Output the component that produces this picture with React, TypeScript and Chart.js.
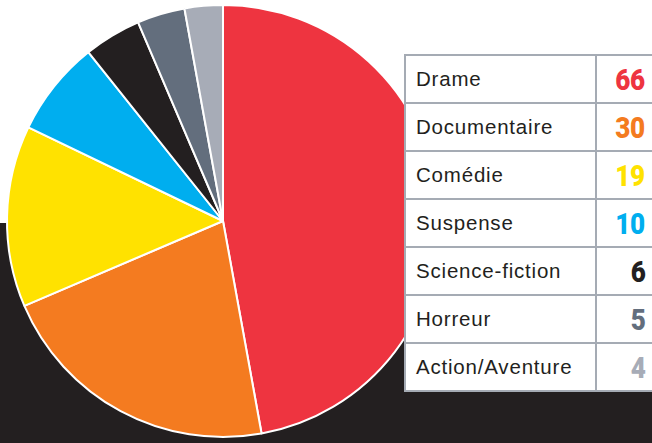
import React, { useEffect, useRef } from "react";
import { Chart, registerables } from "chart.js";

Chart.register(...registerables);

const genres = ["Drame", "Documentaire", "Comédie", "Suspense", "Science-fiction", "Horreur", "Action/Aventure"];
const counts = [66, 30, 19, 10, 6, 5, 4];
const colors = ["#EE3440", "#F47B20", "#FFE200", "#00AEEF", "#231F20", "#636E7D", "#A7ACB7"];

const GRID = "#A5ABB4";

export default function App() {
  const ref = useRef<HTMLCanvasElement | null>(null);

  useEffect(() => {
    if (!ref.current) return;
    const chart = new Chart(ref.current, {
      type: "pie",
      data: {
        labels: genres,
        datasets: [
          {
            data: counts,
            backgroundColor: colors,
            borderColor: "#ffffff",
            borderWidth: 2,
            radius: 216,
          } as any,
        ],
      },
      options: {
        responsive: false,
        animation: false,
        layout: { padding: 0 },
        plugins: {
          legend: { display: false },
          tooltip: { enabled: false },
        },
      },
    });
    return () => chart.destroy();
  }, []);

  return (
    <div
      style={{
        position: "absolute",
        left: 0,
        top: 0,
        width: 652,
        height: 443,
        overflow: "hidden",
        background: "#ffffff",
        fontFamily: '"Liberation Sans", Arial, sans-serif',
      }}
    >
      <div
        style={{
          position: "absolute",
          left: 0,
          top: 223,
          width: 652,
          height: 220,
          background: "#231F20",
        }}
      />
      <canvas
        ref={ref}
        width={440}
        height={440}
        style={{ position: "absolute", left: 3, top: 1, width: 440, height: 440 }}
      />
      <div
        style={{
          position: "absolute",
          left: 404,
          top: 54,
          width: 270,
          background: "#ffffff",
          border: `2px solid ${GRID}`,
          boxSizing: "border-box",
        }}
      >
        {genres.map((g, i) => (
          <div
            key={g}
            style={{
              display: "flex",
              height: 46,
              borderTop: i === 0 ? "none" : `2px solid ${GRID}`,
            }}
          >
            <div
              style={{
                width: 191,
                height: 46,
                display: "flex",
                alignItems: "center",
                paddingLeft: 10,
                boxSizing: "border-box",
                fontSize: 20.5,
                letterSpacing: 0.8,
                color: "#231F20",
                borderRight: `2px solid ${GRID}`,
                whiteSpace: "nowrap",
              }}
            >
              {g}
            </div>
            <div
              style={{
                width: 48,
                height: 46,
                display: "flex",
                alignItems: "center",
                justifyContent: "flex-end",
                paddingTop: 2,
                boxSizing: "border-box",
              }}
            >
              <span
                style={{
                  display: "inline-block",
                  fontFamily: 'Roboto, "Liberation Sans", sans-serif',
                  fontSize: 29,
                  fontWeight: 900,
                  color: colors[i],
                  letterSpacing: -0.5,
                  transform: "scaleX(0.9)",
                  transformOrigin: "right center",
                }}
              >
                {counts[i]}
              </span>
            </div>
          </div>
        ))}
      </div>
    </div>
  );
}
